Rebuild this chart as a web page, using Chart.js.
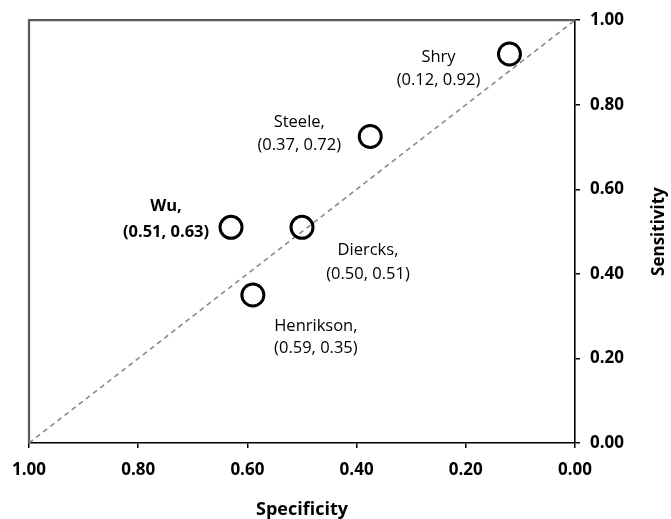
<!DOCTYPE html>
<html>
<head>
<meta charset="utf-8">
<script src="https://cdn.jsdelivr.net/npm/chart.js@4/dist/chart.umd.min.js"></script>
<style>
html,body{margin:0;padding:0;background:#fff;}
canvas{display:block;}
</style>
</head>
<body>
<canvas id="c" width="671" height="519"></canvas>
<script>
// ---- data ----
const studies = ['Shry', 'Steele', 'Wu', 'Diercks', 'Henrikson'];
const specificity = [0.12, 0.375, 0.63, 0.50, 0.59];
const sensitivity = [0.92, 0.725, 0.51, 0.51, 0.35];
const labelLine1 = ['Shry', 'Steele,', 'Wu,', 'Diercks,', 'Henrikson,'];
const labelLine2 = ['(0.12, 0.92)', '(0.37, 0.72)', '(0.51, 0.63)', '(0.50, 0.51)', '(0.59, 0.35)'];
const tickValues = [0, 0.2, 0.4, 0.6, 0.8, 1.0];
const refSpec = [1, 0];
const refSens = [0, 1];
const xTitle = 'Specificity';
const yTitle = 'Sensitivity';

// ---- styles (label placement relative to points) ----
const labelStyle = [
  {dx: -71, dy1: 3, dy2: 26, bold: false},
  {dx: -71, dy1: -14, dy2: 9, bold: false},
  {dx: -65, dy1: -21, dy2: 5, bold: true},
  {dx: 66, dy1: 23, dy2: 47, bold: false},
  {dx: 63, dy1: 31, dy2: 53, bold: false}
];

const FONT = "'Open Sans', 'Noto Sans', sans-serif";

const points = studies.map((s, i) => ({x: specificity[i], y: sensitivity[i]}));
const refLine = refSpec.map((v, i) => ({x: v, y: refSens[i]}));

const labelPlugin = {
  id: 'labels',
  afterDatasetsDraw(chart) {
    const ctx = chart.ctx;
    const meta = chart.getDatasetMeta(0);
    ctx.save();
    ctx.fillStyle = '#000';
    ctx.textAlign = 'center';
    ctx.textBaseline = 'middle';
    meta.data.forEach((el, i) => {
      const st = labelStyle[i];
      ctx.font = (st.bold ? 'bold ' : '') + '16.5px ' + FONT;
      ctx.fillText(labelLine1[i], el.x + st.dx, el.y + st.dy1);
      ctx.fillText(labelLine2[i], el.x + st.dx, el.y + st.dy2);
    });
    ctx.restore();
  },
  beforeDatasetsDraw(chart) {
    const {ctx, chartArea: a} = chart;
    ctx.save();
    ctx.strokeStyle = '#5a5a5a';
    ctx.lineWidth = 2.2;
    ctx.beginPath();
    ctx.moveTo(a.left, a.bottom);
    ctx.lineTo(a.left, a.top);
    ctx.lineTo(a.right, a.top);
    ctx.stroke();
    ctx.restore();
  },
  afterDraw(chart) {
    const {ctx, chartArea: a} = chart;
    ctx.save();
    ctx.font = 'bold 17px ' + FONT;
    ctx.fillStyle = '#000';
    ctx.textAlign = 'center';
    ctx.textBaseline = 'middle';
    ctx.translate(659, (a.top + a.bottom) / 2);
    ctx.rotate(-Math.PI / 2);
    ctx.fillText(yTitle, 0, 0);
    ctx.restore();
  }
};

new Chart(document.getElementById('c'), {
  type: 'scatter',
  data: {
    datasets: [
      {
        data: points,
        pointStyle: 'circle',
        pointRadius: 11,
        pointHoverRadius: 11,
        pointBorderWidth: 3,
        pointBorderColor: '#000',
        pointBackgroundColor: 'rgba(255,255,255,0)',
        showLine: false,
        order: 0
      },
      {
        data: refLine,
        showLine: true,
        borderColor: '#8a8a8a',
        borderWidth: 1.6,
        borderDash: [5, 4],
        pointRadius: 0,
        pointHoverRadius: 0,
        order: 1
      }
    ]
  },
  options: {
    responsive: false,
    animation: false,
    events: [],
    layout: {padding: {left: 29, top: 20, right: 0, bottom: 0}},
    plugins: {legend: {display: false}, tooltip: {enabled: false}},
    scales: {
      x: {
        type: 'linear',
        position: 'bottom',
        reverse: true,
        min: 0,
        max: 1,
        afterBuildTicks(s) { s.ticks = tickValues.map(v => ({value: v})); },
        afterFit(s) { s.height = 76; },
        ticks: {
          callback: v => Number(v).toFixed(2),
          font: {family: FONT, size: 17, weight: 'bold'},
          color: '#000',
          padding: 12,
          maxRotation: 0,
          autoSkip: false
        },
        grid: {drawOnChartArea: false, drawTicks: true, tickLength: 5, color: '#000', lineWidth: 1.5},
        border: {display: true, color: '#000', width: 1.6},
        title: {display: true, text: xTitle, font: {family: FONT, size: 18, weight: 'bold'}, color: '#000', padding: {top: 0, bottom: -2}}
      },
      y: {
        type: 'linear',
        position: 'right',
        min: 0,
        max: 1,
        afterBuildTicks(s) { s.ticks = tickValues.map(v => ({value: v})); },
        afterFit(s) { s.width = 96; },
        ticks: {
          callback: v => Number(v).toFixed(2),
          font: {family: FONT, size: 17, weight: 'bold'},
          color: '#000',
          padding: 10,
          crossAlign: 'near'
        },
        grid: {drawOnChartArea: false, drawTicks: true, tickLength: 5, color: '#000', lineWidth: 1.5},
        border: {display: true, color: '#000', width: 1.6}
      }
    }
  },
  plugins: [labelPlugin]
});
</script>
</body>
</html>
